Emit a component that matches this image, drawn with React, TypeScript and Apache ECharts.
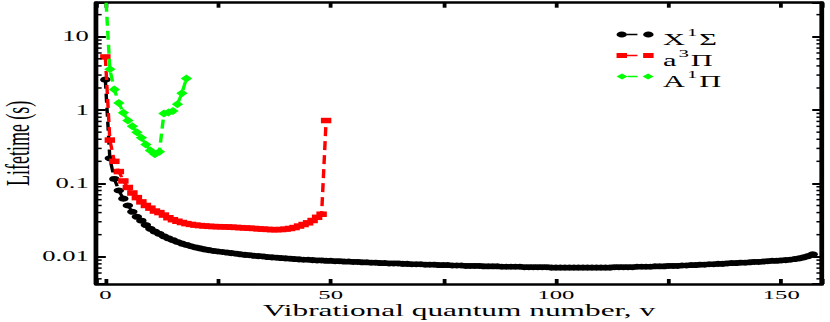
import React, { useEffect, useRef } from 'react';
import * as echarts from 'echarts';

// The reference image is horizontally stretched; the chart is drawn narrow and scaled.
const SCALE_X = 1.9;
const W = 437;
const H = 322;
const SERIF = '"Liberation Serif", "Times New Roman", serif';

const xMin = -2;
const xMax = 159;
const yMin = 0.00425;
const yMax = 29.1;

const xTickValues = [0, 50, 100, 150];
const xTickLabels = ['0', '50', '100', '150'];
const yTickValues = [0.01, 0.1, 1, 10];
const yTickLabels = ['0.01', '0.1', '1', '10'];
const yMinorTicks = [
  0.005, 0.006, 0.007, 0.008, 0.009,
  0.02, 0.03, 0.04, 0.05, 0.06, 0.07, 0.08, 0.09,
  0.2, 0.3, 0.4, 0.5, 0.6, 0.7, 0.8, 0.9,
  2, 3, 4, 5, 6, 7, 8, 9,
  20,
];

const seriesNames = ['X¹Σ', 'a³Π', 'A¹Π'];
const seriesColors = ['#000000', '#ff0000', '#00ff00'];

// lifetimes (s), index = vibrational quantum number v
const xSigmaLifetime = [
  2.6, 0.22, 0.115, 0.080, 0.062, 0.050, 0.041, 0.035, 0.031, 0.027,
  0.024, 0.022, 0.0205, 0.019, 0.0178, 0.0168, 0.0159, 0.0151, 0.0145, 0.0139,
  0.0134, 0.0130, 0.0126, 0.0123, 0.0120, 0.0118, 0.0116, 0.0114, 0.0112, 0.0110,
  0.0108, 0.0106, 0.0105, 0.0103, 0.0102, 0.0101, 0.0099, 0.0098, 0.0097, 0.0096,
  0.0095, 0.0094, 0.0093, 0.0092, 0.0091, 0.0091, 0.0090, 0.0089, 0.0089, 0.0088,
  0.0088, 0.0087, 0.0087, 0.0086, 0.0086, 0.0085, 0.0085, 0.0084, 0.0084, 0.0083,
  0.0083, 0.0082, 0.0082, 0.0081, 0.0081, 0.0081, 0.0080, 0.0080, 0.0079, 0.0079,
  0.0079, 0.0078, 0.0078, 0.0078, 0.0077, 0.0077, 0.0077, 0.0076, 0.0076, 0.0076,
  0.0075, 0.0075, 0.0075, 0.0075, 0.0074, 0.0074, 0.0074, 0.0074, 0.0073, 0.0073,
  0.0073, 0.0073, 0.0073, 0.0072, 0.0072, 0.0072, 0.0072, 0.0072, 0.0072, 0.0071,
  0.0071, 0.0071, 0.0071, 0.0071, 0.0071, 0.0071, 0.0071, 0.0071, 0.0071, 0.0071,
  0.0071, 0.0071, 0.0071, 0.0072, 0.0072, 0.0072, 0.0072, 0.0072, 0.0073, 0.0073,
  0.0073, 0.0073, 0.0074, 0.0074, 0.0074, 0.0075, 0.0075, 0.0075, 0.0076, 0.0076,
  0.0077, 0.0077, 0.0078, 0.0078, 0.0079, 0.0079, 0.0080, 0.0080, 0.0081, 0.0082,
  0.0082, 0.0083, 0.0083, 0.0084, 0.0085, 0.0085, 0.0086, 0.0087, 0.0088, 0.0088,
  0.0089, 0.0090, 0.0091, 0.0093, 0.0095, 0.0098, 0.0102, 0.0108,
];

const a3PiLifetime = [
  5.3, 0.39, 0.20, 0.145, 0.108, 0.088, 0.074, 0.064, 0.056, 0.050,
  0.046, 0.042, 0.040, 0.037, 0.034, 0.032, 0.0305, 0.0293, 0.0283, 0.0276,
  0.0270, 0.0266, 0.0263, 0.0260, 0.0258, 0.0257, 0.0256, 0.0255, 0.0253, 0.0251,
  0.0249, 0.0247, 0.0245, 0.0243, 0.0240, 0.0238, 0.0236, 0.0234, 0.0234, 0.0235,
  0.0238, 0.0243, 0.0250, 0.0262, 0.0275, 0.0290, 0.0312, 0.0345, 0.038, 0.72,
];

const A1PiLifetime = [
  45, 3.6, 1.9, 1.25, 0.92, 0.72, 0.60, 0.50, 0.42, 0.34,
  0.28, 0.25, 0.27, 0.90, 0.93, 0.97, 1.2, 1.7, 2.7,
];

const iconCircle =
  'path://M0,3A2.75,3 0 1,1 5.5,3A2.75,3 0 1,1 0,3Z M5.5,2.3H11V3.7H5.5Z M14,3A2.75,3 0 1,1 19.5,3A2.75,3 0 1,1 14,3Z';
const iconRect =
  'path://M0,0.5H5.5V5.5H0Z M5.5,2.3H11V3.7H5.5Z M14,0.5H19.5V5.5H14Z';
const iconDiamond =
  'path://M0,3L2.9,0L5.8,3L2.9,6Z M5.8,2.3H11V3.7H5.8Z M13.7,3L16.6,0L19.5,3L16.6,6Z';

const xLabelFormatter = (v: number) => {
  const i = xTickValues.findIndex((t) => Math.abs(t - v) < 1e-6);
  return i >= 0 ? xTickLabels[i] : '';
};
const yLabelFormatter = (v: number) => {
  const i = yTickValues.findIndex((t) => Math.abs(Math.log10(t) - Math.log10(v)) < 1e-6);
  return i >= 0 ? yTickLabels[i] : '';
};
// "X¹Σ" -> "{m|X}{sup|1}{m|Σ}"
const legendFormatter = (name: string) =>
  name
    .split('')
    .map((ch) => (ch === '¹' ? '{sup|1}' : ch === '³' ? '{sup|3}' : `{m|${ch}}`))
    .join('');

const axisLineStyle = { show: true, onZero: false, lineStyle: { color: '#000', width: 2.5 } };
const majorTick = { show: true, inside: true, length: 5, lineStyle: { color: '#000', width: 2 } };

function buildOption(): any {
  const lineSeries = (name: string, values: number[], symbol: string, size: number[], color: string, z: number) => ({
    name,
    type: 'line',
    xAxisIndex: 0,
    yAxisIndex: 0,
    data: values.map((t, v) => [v, t]),
    symbol,
    symbolSize: size,
    showSymbol: true,
    itemStyle: { color },
    lineStyle: { color, width: 1.8, type: [9, 5] },
    z,
    silent: true,
  });

  return {
    animation: false,
    backgroundColor: '#ffffff',
    grid: { left: 50.7, right: 4.5, top: 2.7, bottom: 38, containLabel: false, outerBoundsMode: 'none' },
    legend: {
      orient: 'vertical',
      left: 324.5,
      top: 22,
      padding: 0,
      itemWidth: 19.5,
      itemHeight: 6,
      itemGap: -4,
      selectedMode: false,
      data: [
        { name: seriesNames[0], icon: iconCircle },
        { name: seriesNames[1], icon: iconRect },
        { name: seriesNames[2], icon: iconDiamond },
      ],
      formatter: legendFormatter,
      textStyle: {
        fontFamily: SERIF,
        fontSize: 16,
        color: '#000',
        rich: {
          m: { fontFamily: SERIF, fontSize: 16, color: '#000', lineHeight: 13, padding: [9, 0, 0, 0] },
          sup: { fontFamily: SERIF, fontSize: 11, color: '#000', lineHeight: 12, padding: [0, 1, 4, 1] },
        },
      },
    },
    xAxis: [
      {
        type: 'value',
        position: 'bottom',
        min: xMin,
        max: xMax,
        minInterval: 25,
        maxInterval: 25,
        name: 'Vibrational quantum number, v',
        nameLocation: 'middle',
        nameGap: 18.2,
        nameMoveOverlap: false,
        nameTextStyle: { fontFamily: SERIF, fontSize: 16.5, lineHeight: 16.5, color: '#000' },
        axisLine: axisLineStyle,
        axisTick: majorTick,
        axisLabel: {
          margin: 3.6,
          fontFamily: SERIF,
          fontSize: 13,
          lineHeight: 13,
          color: '#000',
          formatter: xLabelFormatter,
        },
        splitLine: { show: false },
      },
      {
        type: 'value',
        position: 'top',
        min: xMin,
        max: xMax,
        minInterval: 25,
        maxInterval: 25,
        axisLine: axisLineStyle,
        axisTick: majorTick,
        axisLabel: { show: false },
        splitLine: { show: false },
      },
    ],
    yAxis: [
      {
        type: 'log',
        position: 'left',
        min: yMin,
        max: yMax,
        name: 'Lifetime (s)',
        nameLocation: 'middle',
        nameGap: 32.5,
        nameMoveOverlap: false,
        nameTextStyle: { fontFamily: SERIF, fontSize: 18, color: '#000' },
        axisLine: axisLineStyle,
        axisTick: majorTick,
        axisLabel: { margin: 4, fontFamily: SERIF, fontSize: 14, color: '#000', formatter: yLabelFormatter },
        splitLine: { show: false },
      },
      {
        type: 'log',
        position: 'right',
        min: yMin,
        max: yMax,
        axisLine: axisLineStyle,
        axisTick: majorTick,
        axisLabel: { show: false },
        splitLine: { show: false },
      },
    ],
    series: [
      {
        name: 'minor ticks',
        type: 'custom',
        xAxisIndex: 0,
        yAxisIndex: 0,
        silent: true,
        clip: false,
        z: 5,
        data: yMinorTicks.map((v) => [xMin, v]),
        renderItem: (params: any, api: any) => {
          const y = api.coord([xMin, api.value(1)])[1];
          const cs = params.coordSys;
          const len = 2.8;
          const style = { stroke: '#000', lineWidth: 1.5 };
          return {
            type: 'group',
            children: [
              { type: 'line', shape: { x1: cs.x, y1: y, x2: cs.x + len, y2: y }, style },
              { type: 'line', shape: { x1: cs.x + cs.width - len, y1: y, x2: cs.x + cs.width, y2: y }, style },
            ],
          };
        },
      },
      lineSeries(seriesNames[0], xSigmaLifetime, 'circle', [5.5, 6], seriesColors[0], 2),
      lineSeries(seriesNames[1], a3PiLifetime, 'rect', [5.5, 5.5], seriesColors[1], 3),
      lineSeries(seriesNames[2], A1PiLifetime, 'diamond', [6, 8], seriesColors[2], 4),
    ],
  };
}

export default function App() {
  const ref = useRef<HTMLDivElement>(null);
  useEffect(() => {
    if (!ref.current) return;
    const chart = echarts.init(ref.current, null, { renderer: 'svg', width: W, height: H });
    chart.setOption(buildOption());
    return () => chart.dispose();
  }, []);
  return (
    <div
      style={{
        position: 'absolute',
        left: 0,
        top: 0,
        width: 830,
        height: 322,
        overflow: 'hidden',
        background: '#ffffff',
      }}
    >
      <div
        ref={ref}
        style={{ width: W, height: H, transform: `scaleX(${SCALE_X})`, transformOrigin: '0 0' }}
      />
    </div>
  );
}
